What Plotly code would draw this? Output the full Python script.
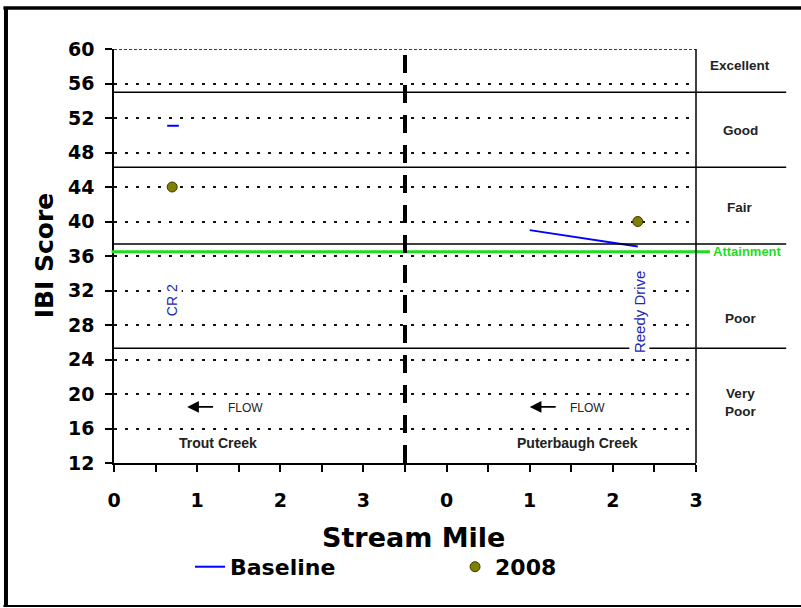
import plotly.graph_objects as go

# ---------------- data ----------------
trout_baseline_mile = [0.64, 0.78]
trout_baseline_ibi = [51.1, 51.1]
puter_baseline_mile = [1.0, 2.3]
puter_baseline_ibi = [39.0, 37.1]

trout_2008_mile = [0.7]
trout_2008_ibi = [44]
puter_2008_mile = [2.3]
puter_2008_ibi = [40]

band_limits = [55.0, 46.3, 37.4, 25.3]
band_names = ["Excellent", "Good", "Fair", "Poor", "Very<br>Poor"]
band_label_ibi = [58.1, 50.6, 41.6, 28.8, 19.0]
attainment_ibi = 36.5
top_ibi = 60

y_ticks = list(range(12, 61, 4))
x_tick_vals = [i * 0.5 for i in range(15)]
x_tick_text = ["0", "", "1", "", "2", "", "3", "", "0", "", "1", "", "2", "", "3"]

RIGHT_OFFSET = 4.0   # Puterbaugh Creek miles drawn after the divider
DIVIDER = 3.5

# ---------------- figure ----------------
TICK_FONT = dict(family="DejaVu Sans", size=19, color="black", weight="bold")
TITLE_FONT = dict(family="DejaVu Sans", size=27, color="black", weight="bold")
LEG_FONT = dict(family="DejaVu Sans", size=22, color="black", weight="bold")

fig = go.Figure()

base_x = trout_baseline_mile + [None] + [m + RIGHT_OFFSET for m in puter_baseline_mile]
base_y = trout_baseline_ibi + [None] + puter_baseline_ibi
fig.add_trace(go.Scatter(x=base_x, y=base_y, mode="lines", name="Baseline",
                         line=dict(color="#0000ff", width=2), connectgaps=False,
                         legend="legend"))

pts_x = trout_2008_mile + [m + RIGHT_OFFSET for m in puter_2008_mile]
pts_y = trout_2008_ibi + puter_2008_ibi
fig.add_trace(go.Scatter(x=pts_x, y=pts_y, mode="markers", name="2008",
                         marker=dict(color="#808000", size=10,
                                     line=dict(color="#3a3a00", width=1)),
                         legend="legend2"))

shapes = []
for v in band_limits:
    shapes.append(dict(type="line", xref="paper", yref="y", x0=0, x1=1.155, y0=v, y1=v,
                       line=dict(color="black", width=1.5), layer="above"))
# top edge (dense dashes)
shapes.append(dict(type="line", xref="paper", yref="y", x0=0, x1=1, y0=top_ibi, y1=top_ibi,
                   line=dict(color="black", width=1.5, dash="3px,2px"), layer="above"))
shapes.append(dict(type="line", xref="paper", yref="y", x0=-0.004, x1=1.024,
                   y0=attainment_ibi, y1=attainment_ibi,
                   line=dict(color="#1fdc1f", width=3), layer="above"))
shapes.append(dict(type="line", xref="x", yref="paper", x0=DIVIDER, x1=DIVIDER, y0=0, y1=1,
                   line=dict(color="black", width=4, dash="18px,12px"), layer="above"))
shapes.append(dict(type="line", xref="paper", yref="paper", x0=1, x1=1, y0=0, y1=1,
                   line=dict(color="black", width=1.5)))
# outer frame
shapes.append(dict(type="line", xref="paper", yref="paper", x0=-0.1856, x1=-0.1856,
                   y0=1.099, y1=-0.3454, line=dict(color="black", width=4)))
shapes.append(dict(type="line", xref="paper", yref="paper", x0=-0.19, x1=1.19,
                   y0=1.099, y1=1.099, line=dict(color="black", width=3.5)))
shapes.append(dict(type="line", xref="paper", yref="paper", x0=-0.19, x1=1.19,
                   y0=-0.3454, y1=-0.3454, line=dict(color="black", width=2)))

annotations = []
for name, yv in zip(band_names, band_label_ibi):
    annotations.append(dict(text=name, xref="paper", yref="y", x=1.076, y=yv,
                            xanchor="center", yanchor="middle", showarrow=False,
                            font=dict(family="Liberation Sans", size=13.5, color="#222",
                                      weight="bold")))
annotations.append(dict(text="Attainment", xref="paper", yref="y", x=1.026,
                        y=attainment_ibi, xanchor="left", yanchor="middle", showarrow=False,
                        font=dict(family="Liberation Sans", size=13, color="#1fdc1f",
                                  weight="bold")))
annotations.append(dict(text="CR 2", x=trout_2008_mile[0], y=30.9, textangle=-90,
                        showarrow=False, bgcolor="white",
                        font=dict(family="Liberation Sans", size=14, color="#2626b4")))
annotations.append(dict(text="Reedy Drive", x=puter_2008_mile[0] + RIGHT_OFFSET + 0.02,
                        y=29.55, textangle=-90, showarrow=False, bgcolor="white",
                        font=dict(family="Liberation Sans", size=15, color="#2626b4")))
for head, tail, tx in [(0.88, 1.21, 1.58), (5.0, 5.33, 5.70)]:
    annotations.append(dict(text="", x=head, y=18.5, ax=tail, ay=18.5, axref="x", ayref="y",
                            showarrow=True, arrowhead=2, arrowsize=1.3, arrowwidth=1.8,
                            arrowcolor="black"))
    annotations.append(dict(text="FLOW", x=tx, y=18.4, showarrow=False,
                            font=dict(family="Liberation Sans", size=12, color="#222")))
annotations.append(dict(text="Trout Creek", x=1.25, y=14.35, showarrow=False,
                        font=dict(family="Liberation Sans", size=14, color="#222",
                                  weight="bold")))
annotations.append(dict(text="Puterbaugh Creek", x=5.57, y=14.35, showarrow=False,
                        font=dict(family="Liberation Sans", size=14, color="#222",
                                  weight="bold")))
annotations.append(dict(text="Stream Mile", xref="paper", yref="paper", x=0.514,
                        y=-0.179, xanchor="center", yanchor="middle", showarrow=False,
                        font=TITLE_FONT))
annotations.append(dict(text="IBI Score", xref="paper", yref="paper", x=-0.12,
                        y=0.502, xanchor="center", yanchor="middle", textangle=-90,
                        showarrow=False, font=dict(TITLE_FONT, size=25)))

fig.update_layout(
    width=801, height=608,
    margin=dict(l=114, r=105, t=49, b=145),
    paper_bgcolor="white", plot_bgcolor="white",
    shapes=shapes, annotations=annotations,
    showlegend=True,
    legend=dict(orientation="h", x=0.1306, xanchor="left", y=-0.251, yanchor="middle",
                font=LEG_FONT, bgcolor="rgba(0,0,0,0)"),
    legend2=dict(orientation="h", x=0.586, xanchor="left", y=-0.251, yanchor="middle",
                 font=LEG_FONT, bgcolor="rgba(0,0,0,0)"),
)

fig.update_xaxes(range=[0, 7], tickvals=x_tick_vals, ticktext=x_tick_text,
                 showgrid=False, zeroline=False, showline=True, linecolor="black",
                 linewidth=1.5, ticks="outside", ticklen=7, tickwidth=1.5, tickcolor="black",
                 tickfont=TICK_FONT, ticklabelstandoff=12)
fig.update_yaxes(range=[12, 60], tickvals=y_ticks, showgrid=True, gridcolor="#111",
                 griddash="3px,8px", gridwidth=1.5, zeroline=False, showline=True,
                 linecolor="black", linewidth=1.5, ticks="outside", ticklen=7, tickwidth=1.5,
                 tickcolor="black", tickfont=TICK_FONT, ticklabelstandoff=7)

fig.write_html("out.html", config={"displayModeBar": False},
               post_script="document.body.style.margin='0';"
                           "document.documentElement.style.overflow='hidden';")
